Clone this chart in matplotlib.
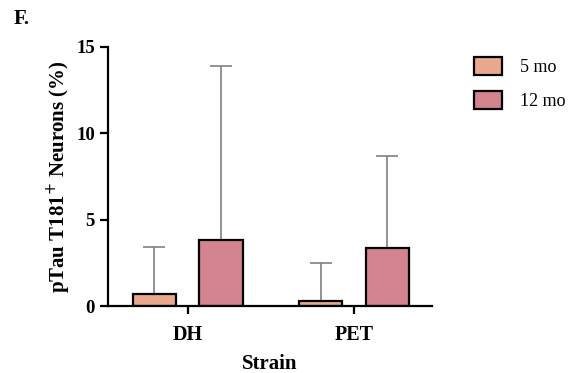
import numpy as np
import matplotlib.pyplot as plt

plt.rcParams['font.family'] = ['Liberation Serif', 'DejaVu Serif']

# datos
cepas = ['DH', 'PET']
edades = ['5 mo', '12 mo']
media_5 = [0.68, 0.29]
media_12 = [3.80, 3.37]
de_5 = [2.73, 2.21]
de_12 = [10.08, 5.32]

colores = ['#E9A98C', '#D4848E']

fig = plt.figure(figsize=(5.73, 3.73), dpi=100)
ax = fig.add_axes([0.1885, 0.1796, 0.565, 0.6952])

x = np.arange(len(cepas))
ancho = 0.26
desp = 0.2

for medias, des, color, etiqueta, signo in [(media_5, de_5, colores[0], edades[0], -1),
                                            (media_12, de_12, colores[1], edades[1], 1)]:
    pos = x + signo * desp
    ax.errorbar(pos, medias, yerr=[np.zeros(len(des)), des], fmt='none',
                ecolor='#808080', elinewidth=1.2, capsize=8, capthick=1.2, zorder=1)
    ax.bar(pos, medias, width=ancho, color=color, edgecolor='black',
           linewidth=1.6, label=etiqueta, zorder=2)

ax.set_xlim(-0.478, 1.466)
ax.set_ylim(0, 15)
ax.set_yticks([0, 5, 10, 15])
ax.set_xticks(x)
ax.set_xticklabels(cepas, fontsize=14.5, fontweight='bold')
for lab in ax.get_yticklabels():
    lab.set_fontsize(13.5)
    lab.set_fontweight('bold')

ax.spines['top'].set_visible(False)
ax.spines['right'].set_visible(False)
ax.spines['left'].set_linewidth(1.6)
ax.spines['bottom'].set_linewidth(1.6)
ax.tick_params(axis='both', width=1.6, length=6)
ax.tick_params(axis='x', pad=8)

ax.set_xlabel('Strain', fontsize=15, fontweight='bold', labelpad=6)
ax.set_ylabel('pTau T181$^{+}$ Neurons (%)', fontsize=15, fontweight='bold', labelpad=2)

fig.legend(loc='upper left', bbox_to_anchor=(0.8115, 0.872), frameon=False,
           borderpad=0, fontsize=13, handlelength=1.55, handleheight=1.15,
           labelspacing=0.85, handletextpad=1.0)

fig.text(0.023, 0.95, 'F.', fontsize=15, fontweight='bold', va='center')

fig.savefig('out.png', dpi=100)
